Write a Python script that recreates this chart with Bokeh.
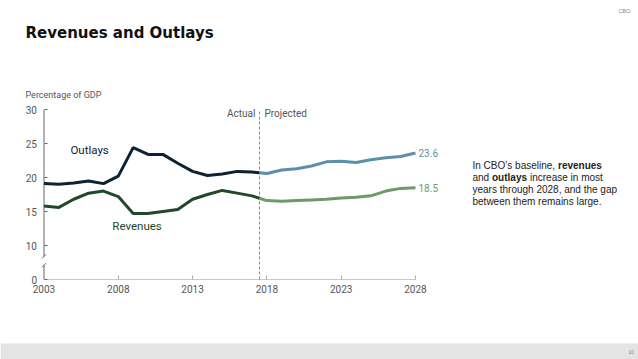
from bokeh.plotting import figure
from bokeh.models import Range1d, Label, BoxAnnotation, FixedTicker
from bokeh.embed import file_html
from bokeh.resources import INLINE

# ---------------- data ----------------
years_actual = list(range(2003, 2018))
outlays_actual = [19.1, 19.0, 19.2, 19.5, 19.1, 20.2, 24.4, 23.4, 23.4, 22.1, 20.9, 20.3, 20.5, 20.9, 20.8]
revenues_actual = [15.8, 15.6, 16.8, 17.7, 18.0, 17.2, 14.7, 14.7, 15.0, 15.3, 16.8, 17.5, 18.1, 17.7, 17.3]

years_proj = list(range(2018, 2029))
outlays_proj = [20.6, 21.1, 21.3, 21.7, 22.3, 22.4, 22.2, 22.6, 22.9, 23.1, 23.6]
revenues_proj = [16.6, 16.5, 16.6, 16.7, 16.8, 17.0, 17.1, 17.3, 18.0, 18.4, 18.5]

x_ticks = [2003, 2008, 2013, 2018, 2023, 2028]
y_ticks = [5, 10, 15, 20, 25, 30]          # 5 is drawn below the axis break
y_tick_labels = ["0", "10", "15", "20", "25", "30"]

# ---------------- styles / layout ----------------
C_OUT_A = "#0d2233"
C_OUT_P = "#5d90a8"
C_REV_A = "#22482a"
C_REV_P = "#6c9b66"
C_TXT = "#555555"
CHART_FONT = "Roboto"
W, H = 638, 359

# pixel -> data helpers (layout only)
def dx(px):
    return 2003 + (px - 43.5) / 14.86

def dy(py):
    return 5 + (279 - py) / 6.8

p = figure(width=W, height=H,
           x_range=Range1d(dx(0), dx(W)), y_range=Range1d(dy(H), dy(0)),
           output_backend="svg", toolbar_location=None, min_border=0)
p.outline_line_color = None
p.xgrid.visible = False
p.ygrid.visible = False

for ax in (p.xaxis[0], p.yaxis[0]):
    ax.axis_line_color = None
    ax.minor_tick_line_color = None
    ax.major_tick_out = 0
    ax.minor_tick_in = 0
    ax.minor_tick_out = 0
    ax.major_label_text_font = CHART_FONT
    ax.major_label_text_font_size = "10px"
    ax.major_label_text_color = C_TXT

p.xaxis.ticker = FixedTicker(ticks=x_ticks)
p.xaxis.fixed_location = y_ticks[0]
p.xaxis.major_tick_in = 4
p.xaxis.major_tick_line_color = "#aaaaaa"
p.xaxis.major_label_standoff = 5

p.yaxis.ticker = FixedTicker(ticks=y_ticks)
p.yaxis.fixed_location = x_ticks[0]
p.yaxis.major_tick_in = 3
p.yaxis.major_tick_line_color = "#666666"
p.yaxis.major_label_overrides = {t: l for t, l in zip(y_ticks, y_tick_labels)}
p.yaxis.major_label_standoff = 7

# axis lines drawn by hand (y axis has a break)
y0 = y_ticks[0]
p.line([x_ticks[0], x_ticks[-1]], [y0, y0], line_color="#c8c8c8", line_width=1)
brk_lo, brk_hi = 7.1, 8.4
p.segment(x0=[x_ticks[0]] * 2, y0=[y0, brk_hi], x1=[x_ticks[0]] * 2, y1=[brk_lo, y_ticks[-1]],
          line_color="#666666", line_width=1)
p.segment(x0=[x_ticks[0] - 0.13] * 2, y0=[brk_lo - 0.3, brk_hi - 0.3],
          x1=[x_ticks[0] + 0.13] * 2, y1=[brk_lo + 0.3, brk_hi + 0.3],
          line_color="#666666", line_width=1)

# boundary between actual and projected
mid_x = (years_actual[-1] + years_proj[0]) / 2
mid_out = (outlays_actual[-1] + outlays_proj[0]) / 2
mid_rev = (revenues_actual[-1] + revenues_proj[0]) / 2

p.line([mid_x, mid_x], [y0, y_ticks[-1]], line_color="#888888", line_width=1, line_dash="3 2")

# series
p.line(years_actual + [mid_x], outlays_actual + [mid_out], line_color=C_OUT_A, line_width=3)
p.line([mid_x] + years_proj, [mid_out] + outlays_proj, line_color=C_OUT_P, line_width=3)
p.line(years_actual + [mid_x], revenues_actual + [mid_rev], line_color=C_REV_A, line_width=3)
p.line([mid_x] + years_proj, [mid_rev] + revenues_proj, line_color=C_REV_P, line_width=3)

# labels
def label(x, y, text, **kw):
    opts = dict(text_font=CHART_FONT, text_font_size="10px", text_color=C_TXT,
                text_baseline="middle")
    opts.update(kw)
    p.add_layout(Label(x=x, y=y, text=text, **opts))

label(mid_x, 29.4, "Actual", text_align="right", x_offset=-4)
label(mid_x, 29.4, "Projected", text_align="left", x_offset=5)
label(2004.78, 24.1, "Outlays", text_font_size="11.5px", text_color=C_OUT_A)
label(2007.6, 12.8, "Revenues", text_font_size="11.5px", text_color=C_REV_A)
label(years_proj[-1], outlays_proj[-1], f"{outlays_proj[-1]:.1f}", x_offset=3, text_color=C_OUT_P)
label(years_proj[-1], revenues_proj[-1], f"{revenues_proj[-1]:.1f}", x_offset=3, text_color=C_REV_P)

label(dx(25), dy(94), "Percentage of GDP", text_font_size="9px")

# page-level texts
PF = "Liberation Sans"
label(dx(25), dy(32), "Revenues and Outlays", text_font="DejaVu Sans", text_font_size="15px",
      text_font_style="bold", text_color="#111111")
label(dx(624), dy(10.5), "CBO", text_font=PF, text_font_size="5.5px", text_color="#888888",
      text_align="center")

para = dict(text_font=PF, text_color="#222222")
label(dx(472), dy(165), "In CBO\u2019s baseline,", **para)
label(dx(557.5), dy(165), "revenues", text_font_style="bold", **para)
label(dx(472), dy(177), "and", **para)
label(dx(491.5), dy(177), "outlays", text_font_style="bold", **para)
label(dx(529.5), dy(177), "increase in most", **para)
label(dx(472), dy(189), "years through 2028, and the gap", **para)
label(dx(472), dy(201), "between them remains large.", **para)

p.add_layout(BoxAnnotation(left=dx(0), right=dx(W), top=dy(343), bottom=dy(H),
                           fill_color="#e4e4e4", fill_alpha=1, line_color=None, level="underlay"))
label(dx(630.5), dy(351.5), "10", text_font=PF, text_font_size="5px", text_color="#888888",
      text_align="center")

open("out.html", "w").write(file_html(p, INLINE))
